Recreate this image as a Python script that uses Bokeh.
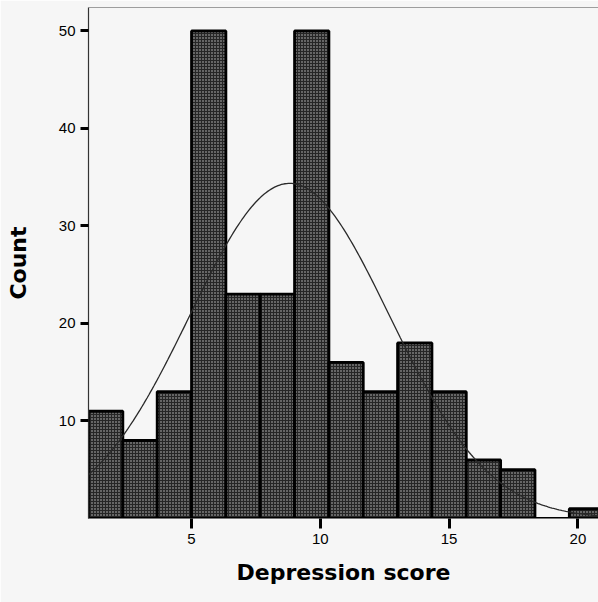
import numpy as np
from bokeh.plotting import figure
from bokeh.models import ColumnDataSource, Span, FixedTicker
from bokeh.embed import file_html
from bokeh.resources import INLINE

# Histogram of depression scores: bin edges and counts per bin
bin_edges = [1, 7/3, 11/3, 5, 19/3, 23/3, 9, 31/3, 35/3, 13, 43/3, 47/3, 17, 55/3, 59/3, 21]
counts = [11, 8, 13, 50, 23, 23, 50, 16, 13, 18, 13, 6, 5, 0, 1]

x_ticks = [5, 10, 15, 20]
y_ticks = [10, 20, 30, 40, 50]
x_label = "Depression score"
y_label = "Count"

BG = "#f6f6f6"

left = bin_edges[:-1]
right = bin_edges[1:]
mids = [(a + b) / 2 for a, b in zip(left, right)]
bar_src = ColumnDataSource(dict(left=left, right=right, top=counts,
                                bottom=[0] * len(counts)))

# normal curve fitted to the binned scores
n = sum(counts)
bw = bin_edges[1] - bin_edges[0]
mean = sum(m * c for m, c in zip(mids, counts)) / n
sd = (sum(c * (m - mean) ** 2 for m, c in zip(mids, counts)) / (n - 1)) ** 0.5
xs = np.linspace(bin_edges[0], bin_edges[-1], 300)
ys = n * bw * np.exp(-0.5 * ((xs - mean) / sd) ** 2) / (sd * np.sqrt(2 * np.pi))

p = figure(width=598, height=602, x_range=(1, 20.8), y_range=(0, 52.4),
           output_backend="svg", toolbar_location=None,
           min_border_left=88, min_border_right=0, min_border_top=7,
           min_border_bottom=84)
p.background_fill_color = BG
p.border_fill_color = BG
p.outline_line_color = None
p.xgrid.visible = False
p.ygrid.visible = False

p.quad(left="left", right="right", top="top", bottom="bottom", source=bar_src,
       fill_color="#262626", line_color="black", line_width=2.8,
       hatch_pattern="dot", hatch_color="#c4c4c4", hatch_scale=3, hatch_weight=1)

p.line(xs, ys, line_color="#2a2a2a", line_width=1.3)

p.add_layout(Span(location=52.4, dimension="width", line_color="#444444",
                  line_width=1.2))

for ax in (p.xaxis, p.yaxis):
    ax.major_tick_line_color = "black"
    ax.major_tick_line_width = 3
    ax.major_tick_in = 0
    ax.minor_tick_line_color = None
    ax.major_label_text_font = "Liberation Sans"
    ax.major_label_text_font_size = "15px"
    ax.major_label_text_color = "black"
    ax.axis_label_text_font = "DejaVu Sans"
    ax.axis_label_text_font_style = "bold"
    ax.axis_label_text_font_size = "22px"
    ax.axis_label_text_color = "black"

p.xaxis.ticker = FixedTicker(ticks=x_ticks)
p.yaxis.ticker = FixedTicker(ticks=y_ticks)
p.xaxis.major_tick_out = 10
p.yaxis.major_tick_out = 8
p.xaxis.major_label_standoff = 5
p.yaxis.major_label_standoff = 5
p.xaxis.axis_line_color = "#777777"
p.xaxis.axis_line_width = 1
p.yaxis.axis_line_color = "#333333"
p.yaxis.axis_line_width = 1.2
p.xaxis.axis_label = x_label
p.yaxis.axis_label = y_label
p.xaxis.axis_label_standoff = 13
p.yaxis.axis_label_standoff = 25

open("out.html", "w").write(file_html(p, INLINE))
